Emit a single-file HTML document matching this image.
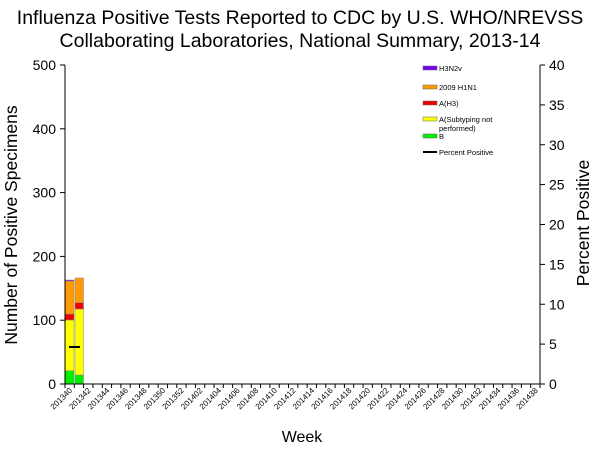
<!DOCTYPE html>
<html><head><style>body{margin:0;background:#fff}</style></head><body>
<svg width="600" height="450" xmlns="http://www.w3.org/2000/svg" font-family="Liberation Sans, Arial, sans-serif">
<rect width="600" height="450" fill="#fff"/>
<text x="300" y="24" font-size="19.5" text-anchor="middle">Influenza Positive Tests Reported to CDC by U.S. WHO/NREVSS</text>
<text x="300" y="47" font-size="19.5" text-anchor="middle">Collaborating Laboratories, National Summary, 2013-14</text>
<g stroke="#888" stroke-width="0.5">
<rect x="65" y="370.7" width="9" height="13.3" fill="#00ee00"/>
<rect x="65" y="320" width="9" height="50.7" fill="#ffff00"/>
<rect x="65" y="314" width="9" height="6" fill="#ee0000"/>
<rect x="65" y="281" width="9" height="33" fill="#ff9900"/>
<rect x="65" y="280" width="9" height="1" fill="#7700ee"/>
<rect x="75" y="375" width="8.5" height="9" fill="#00ee00"/>
<rect x="75" y="309" width="8.5" height="66" fill="#ffff00"/>
<rect x="75" y="302.7" width="8.5" height="6.3" fill="#ee0000"/>
<rect x="75" y="278" width="8.5" height="24.7" fill="#ff9900"/>
</g>
<line x1="69" y1="347" x2="80" y2="347" stroke="#000" stroke-width="2"/>
<g stroke="#000" stroke-width="1">
<line x1="65" y1="65" x2="65" y2="384"/>
<line x1="540" y1="65" x2="540" y2="384"/>
<line x1="65" y1="384" x2="540" y2="384"/>
<line x1="60" y1="65" x2="65" y2="65"/><line x1="60" y1="128.8" x2="65" y2="128.8"/><line x1="60" y1="192.6" x2="65" y2="192.6"/><line x1="60" y1="256.4" x2="65" y2="256.4"/><line x1="60" y1="320.2" x2="65" y2="320.2"/><line x1="60" y1="384" x2="65" y2="384"/>
<line x1="540" y1="65" x2="545" y2="65"/><line x1="540" y1="104.9" x2="545" y2="104.9"/><line x1="540" y1="144.75" x2="545" y2="144.75"/><line x1="540" y1="184.6" x2="545" y2="184.6"/><line x1="540" y1="224.5" x2="545" y2="224.5"/><line x1="540" y1="264.4" x2="545" y2="264.4"/><line x1="540" y1="304.25" x2="545" y2="304.25"/><line x1="540" y1="344.1" x2="545" y2="344.1"/><line x1="540" y1="384" x2="545" y2="384"/>
</g>
<g font-size="14" text-anchor="end">
<text x="56" y="70">500</text><text x="56" y="133.8">400</text><text x="56" y="197.6">300</text><text x="56" y="261.4">200</text><text x="56" y="325.2">100</text><text x="56" y="389">0</text>
</g>
<g font-size="14" text-anchor="start">
<text x="549" y="70">40</text><text x="549" y="109.9">35</text><text x="549" y="149.75">30</text><text x="549" y="189.6">25</text><text x="549" y="229.5">20</text><text x="549" y="269.4">15</text><text x="549" y="309.25">10</text><text x="549" y="349.1">5</text><text x="549" y="389">0</text>
</g>
<text transform="translate(17,225) rotate(-90)" font-size="17.5" text-anchor="middle">Number of Positive Specimens</text>
<text transform="translate(589,223) rotate(-90)" font-size="17.5" text-anchor="middle">Percent Positive</text>
<text x="302" y="442" font-size="16" text-anchor="middle">Week</text>
<g id="xt" font-size="8" text-anchor="end"></g>
<g font-size="7.5">
<rect x="423" y="66" width="14" height="4" fill="#7700ee" stroke="#666" stroke-width="0.5"/><text x="439" y="71">H3N2v</text>
<rect x="423" y="85" width="14" height="4" fill="#ff9900" stroke="#666" stroke-width="0.5"/><text x="439" y="90">2009 H1N1</text>
<rect x="423" y="101" width="14" height="4" fill="#ee0000" stroke="#666" stroke-width="0.5"/><text x="439" y="106">A(H3)</text>
<rect x="423" y="117" width="14" height="4" fill="#ffff00" stroke="#666" stroke-width="0.5"/><text x="439" y="122">A(Subtyping not</text><text x="439" y="131">performed)</text>
<rect x="423" y="134" width="14" height="4" fill="#00ee00" stroke="#666" stroke-width="0.5"/><text x="439" y="139">B</text>
<line x1="423" y1="152" x2="437" y2="152" stroke="#000" stroke-width="2"/><text x="439" y="155">Percent Positive</text>
</g>
<script>
var g=document.getElementById('xt'),ns='http://www.w3.org/2000/svg',w=475/51;
for(var i=0;i<=51;i++){var x=65+i*w;var l=document.createElementNS(ns,'line');l.setAttribute('x1',x);l.setAttribute('x2',x);l.setAttribute('y1',384);l.setAttribute('y2',388);l.setAttribute('stroke','#000');g.appendChild(l);}
for(var k=0;k<26;k++){var wk=40+2*k,lab;if(wk<=52)lab='2013'+wk;else{var n=wk-52;lab='2014'+(n<10?'0':'')+n;}
var cx=65+(2*k+0.5)*w+3;var t=document.createElementNS(ns,'text');t.setAttribute('transform','translate('+cx+',391) rotate(-45)');t.textContent=lab;g.appendChild(t);}
</script>
</svg>
</body></html>
